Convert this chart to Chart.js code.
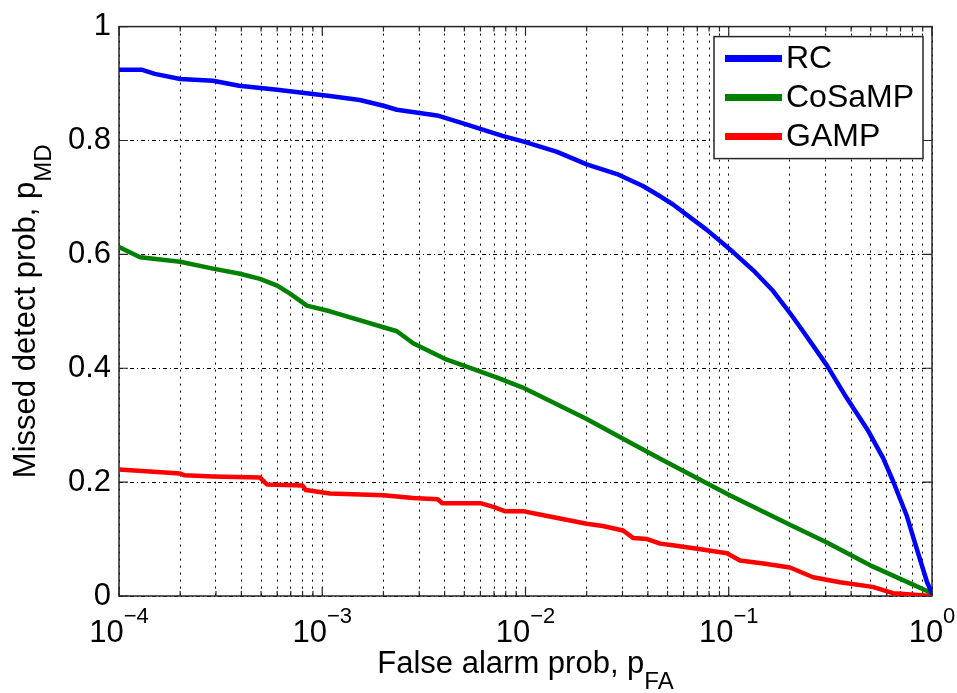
<!DOCTYPE html>
<html>
<head>
<meta charset="utf-8">
<script src="https://cdn.jsdelivr.net/npm/chart.js@4.4.1/dist/chart.umd.min.js"></script>
<style>
  html, body { margin: 0; padding: 0; background: #ffffff; }
  #wrap { width: 957px; height: 693px; }
</style>
</head>
<body>
<div id="wrap"><canvas id="rocChart"></canvas></div>
<script>
/* ==========================
   DATA
========================== */
const rcX = [1e-4, 1.3e-4, 1.5e-4, 2e-4, 2.9e-4, 3.9e-4, 6e-4, 1.09e-3, 1.53e-3, 2e-3, 2.33e-3, 3.67e-3, 4.93e-3, 7.7e-3, 1.0e-2, 1.43e-2, 2e-2, 2.82e-2, 3.78e-2, 4.6e-2, 5.3e-2, 7.8e-2, 0.105, 0.132, 0.165, 0.2, 0.232, 0.304, 0.38, 0.48, 0.575, 0.643, 0.753, 0.843, 0.944, 1];
const rcY = [0.924, 0.924, 0.917, 0.908, 0.905, 0.896, 0.889, 0.878, 0.871, 0.861, 0.854, 0.844, 0.830, 0.808, 0.797, 0.780, 0.758, 0.741, 0.720, 0.702, 0.688, 0.643, 0.604, 0.572, 0.536, 0.497, 0.465, 0.405, 0.348, 0.293, 0.242, 0.202, 0.140, 0.082, 0.025, 0.005];

const cosampX = [1e-4, 1.27e-4, 2e-4, 2.9e-4, 3.94e-4, 4.94e-4, 6e-4, 6.94e-4, 8.4e-4, 1.09e-3, 2.33e-3, 2.8e-3, 4.1e-3, 4.93e-3, 7.2e-3, 9.7e-3, 2e-2, 3.02e-2, 4.6e-2, 7.8e-2, 0.1, 0.2, 0.304, 0.51, 1];
const cosampY = [0.613, 0.595, 0.587, 0.575, 0.566, 0.557, 0.545, 0.531, 0.510, 0.500, 0.465, 0.444, 0.415, 0.405, 0.384, 0.366, 0.311, 0.276, 0.241, 0.198, 0.178, 0.125, 0.094, 0.052, 0.005];

const gampX = [1e-4, 2e-4, 2.1e-4, 2.9e-4, 4.94e-4, 5.2e-4, 5.35e-4, 8e-4, 8.3e-4, 1.09e-3, 2e-3, 2.8e-3, 3.7e-3, 3.9e-3, 6e-3, 7e-3, 7.9e-3, 9.7e-3, 1.14e-2, 2e-2, 2.4e-2, 3.02e-2, 3.38e-2, 3.97e-2, 4.6e-2, 5.3e-2, 7e-2, 9.8e-2, 0.1135, 0.148, 0.2, 0.26, 0.352, 0.51, 0.643, 1];
const gampY = [0.222, 0.215, 0.212, 0.210, 0.208, 0.200, 0.196, 0.194, 0.186, 0.180, 0.177, 0.172, 0.170, 0.163, 0.163, 0.156, 0.149, 0.149, 0.144, 0.127, 0.123, 0.115, 0.102, 0.100, 0.092, 0.089, 0.083, 0.075, 0.0625, 0.057, 0.050, 0.033, 0.024, 0.016, 0.005, 0.0];

const seriesNames = ["RC", "CoSaMP", "GAMP"];
const seriesColors = ["#0000ff", "#008000", "#ff0000"];

const xMajorTicks = [1e-4, 1e-3, 1e-2, 1e-1, 1];
const xMajorExps = ["\u22124", "\u22123", "\u22122", "\u22121", "0"];
const yTicks = [0, 0.2, 0.4, 0.6, 0.8, 1];

const xTitle = "False alarm prob, p";
const xTitleSub = "FA";
const yTitle = "Missed detect prob, p";
const yTitleSub = "MD";

// grid lines at 1..9 x 10^k (log axis)
const xGridValues = [];
xMajorTicks.slice(0, -1).forEach(dec => {
  for (let m = 1; m <= 9; m++) xGridValues.push({ value: m * dec, major: m === 1 });
});
xGridValues.push({ value: 1, major: true });

const FONT = "'Liberation Sans', Arial, Helvetica, sans-serif";
Chart.defaults.font.family = FONT;
Chart.defaults.color = "#000000";

function toPoints(xs, ys) {
  return xs.map((x, i) => ({ x, y: ys[i] }));
}

/* ==========================
   DECORATION (box, ticks, labels, legend)
========================== */
function drawSubText(ctx, main, sub, cx, baseline, mainSize, subSize, subShift) {
  ctx.font = `${mainSize}px ${FONT}`;
  const wMain = ctx.measureText(main).width;
  ctx.font = `${subSize}px ${FONT}`;
  const wSub = ctx.measureText(sub).width;
  const start = cx - (wMain + wSub) / 2;
  ctx.textAlign = "left";
  ctx.textBaseline = "alphabetic";
  ctx.font = `${mainSize}px ${FONT}`;
  ctx.fillText(main, start, baseline);
  ctx.font = `${subSize}px ${FONT}`;
  ctx.fillText(sub, start + wMain, baseline + subShift);
}

const decorPlugin = {
  id: "decor",
  beforeDatasetsDraw(chart) {
    const { ctx, chartArea: a, scales: { x, y } } = chart;
    ctx.save();
    ctx.strokeStyle = "#262626";
    ctx.lineWidth = 1.5;
    ctx.strokeRect(a.left, a.top, a.right - a.left, a.bottom - a.top);

    ctx.lineWidth = 1.2;
    ctx.beginPath();
    xGridValues.forEach(t => {
      const px = x.getPixelForValue(t.value);
      const len = t.major ? 9 : 5;
      ctx.moveTo(px, a.bottom); ctx.lineTo(px, a.bottom - len);
      ctx.moveTo(px, a.top); ctx.lineTo(px, a.top + len);
    });
    yTicks.forEach(v => {
      const py = y.getPixelForValue(v);
      ctx.moveTo(a.left, py); ctx.lineTo(a.left + 9, py);
      ctx.moveTo(a.right, py); ctx.lineTo(a.right - 9, py);
    });
    ctx.stroke();
    ctx.restore();
  },
  afterDraw(chart) {
    const { ctx, chartArea: a, scales: { x } } = chart;
    ctx.save();
    ctx.fillStyle = "#000000";

    // x tick labels 10^k
    xMajorTicks.forEach((v, i) => {
      const px = x.getPixelForValue(v);
      ctx.font = `31px ${FONT}`;
      const w10 = ctx.measureText("10").width;
      ctx.font = `22px ${FONT}`;
      const wExp = ctx.measureText(xMajorExps[i]).width;
      const start = px - (w10 + wExp) / 2;
      ctx.textAlign = "left";
      ctx.textBaseline = "alphabetic";
      ctx.font = `31px ${FONT}`;
      ctx.fillText("10", start, a.bottom + 46);
      ctx.font = `22px ${FONT}`;
      ctx.fillText(xMajorExps[i], start + w10, a.bottom + 27);
    });

    // axis titles
    const cx = (a.left + a.right) / 2;
    drawSubText(ctx, xTitle, xTitleSub, cx, a.bottom + 77, 31, 24, 16);

    ctx.save();
    ctx.translate(35, (a.top + a.bottom) / 2);
    ctx.rotate(-Math.PI / 2);
    drawSubText(ctx, yTitle, yTitleSub, 0, 0, 31, 24, 16);
    ctx.restore();

    // legend box
    const box = { left: a.right - 218, top: a.top + 10, width: 209, height: 122 };
    ctx.fillStyle = "#ffffff";
    ctx.fillRect(box.left, box.top, box.width, box.height);
    ctx.strokeStyle = "#262626";
    ctx.lineWidth = 1.5;
    ctx.strokeRect(box.left, box.top, box.width, box.height);
    chart.data.datasets.forEach((ds, i) => {
      const ly = box.top + 22 + i * 39;
      ctx.strokeStyle = ds.borderColor;
      ctx.lineWidth = 7;
      ctx.beginPath();
      ctx.moveTo(box.left + 11, ly);
      ctx.lineTo(box.left + 68, ly);
      ctx.stroke();
      ctx.fillStyle = "#000000";
      ctx.font = `32px ${FONT}`;
      ctx.textAlign = "left";
      ctx.textBaseline = "middle";
      ctx.fillText(ds.label, box.left + 72, ly + 1);
    });
    ctx.restore();
  }
};

/* ==========================
   CHART
========================== */
const seriesData = [toPoints(rcX, rcY), toPoints(cosampX, cosampY), toPoints(gampX, gampY)];

new Chart(document.getElementById("rocChart"), {
  type: "scatter",
  data: {
    datasets: seriesNames.map((name, i) => ({
      label: name,
      data: seriesData[i],
      showLine: true,
      borderColor: seriesColors[i],
      backgroundColor: seriesColors[i],
      borderWidth: 4.5,
      pointRadius: 0,
      pointHoverRadius: 0,
      tension: 0,
      borderJoinStyle: "round",
      borderCapStyle: "round"
    }))
  },
  options: {
    responsive: true,
    maintainAspectRatio: false,
    animation: false,
    layout: {
      padding: { top: 20, right: 25, bottom: 0, left: 0 }
    },
    plugins: {
      legend: { display: false },
      tooltip: { enabled: false }
    },
    scales: {
      x: {
        type: "logarithmic",
        min: 1e-4,
        max: 1,
        afterBuildTicks: scale => {
          scale.ticks = xGridValues.map(t => ({ value: t.value, major: t.major }));
        },
        afterFit: scale => { scale.height = 97; },
        ticks: { display: false },
        grid: {
          color: "#000000",
          lineWidth: 1,
          drawTicks: false
        },
        border: { display: false, dash: [2, 5] }
      },
      y: {
        type: "linear",
        min: 0,
        max: 1,
        afterBuildTicks: scale => {
          scale.ticks = yTicks.map(v => ({ value: v }));
        },
        afterFit: scale => { scale.width = 119; },
        ticks: {
          padding: 8,
          color: "#000000",
          font: { size: 31 },
          callback: value => String(value)
        },
        grid: {
          color: "#000000",
          lineWidth: 1,
          drawTicks: false
        },
        border: { display: false, dash: [4, 3, 1, 3] }
      }
    }
  },
  plugins: [decorPlugin]
});
</script>
</body>
</html>
